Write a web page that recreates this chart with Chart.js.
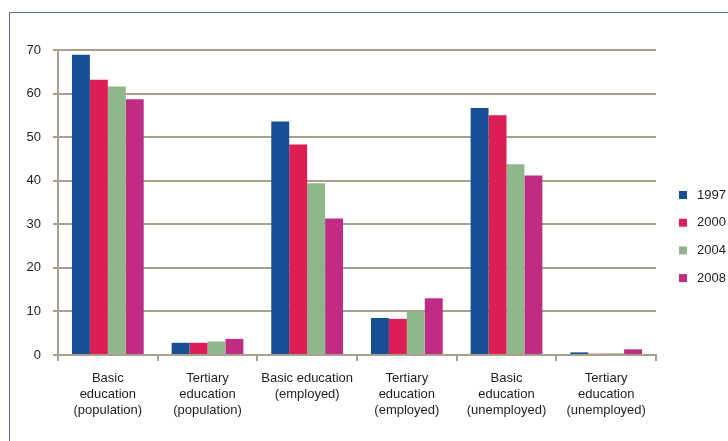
<!DOCTYPE html>
<html>
<head>
<meta charset="utf-8">
<script src="https://cdn.jsdelivr.net/npm/chart.js@4"></script>
<style>
  html, body { margin: 0; padding: 0; background: #fff; }
  #wrap { position: relative; width: 728px; height: 441px; overflow: hidden; }
  #frame { position: absolute; left: 9px; top: 12px; width: 760px; height: 460px; border: 1px solid #5a6a94; }
  #chart { position: absolute; left: 0; top: 0; }
</style>
</head>
<body>
<div id="wrap">
  <div id="frame"></div>
  <canvas id="chart" width="728" height="441"></canvas>
</div>
<script>
/* education shares by year */
const categories = [
  ['Basic', 'education', '(population)'],
  ['Tertiary', 'education', '(population)'],
  ['Basic education', '(employed)'],
  ['Tertiary', 'education', '(employed)'],
  ['Basic', 'education', '(unemployed)'],
  ['Tertiary', 'education', '(unemployed)']
];
const years = ['1997', '2000', '2004', '2008'];
const v1997 = [68.9, 2.8, 53.6, 8.5, 56.7, 0.6];
const v2000 = [63.2, 2.8, 48.3, 8.3, 55.0, 0.3];
const v2004 = [61.6, 3.1, 39.4, 10.0, 43.8, 0.4];
const v2008 = [58.7, 3.7, 31.3, 13.0, 41.2, 1.3];
const yTicks = [0, 10, 20, 30, 40, 50, 60, 70];

const COLORS = ['#184e93', '#dc1e55', '#8fb78b', '#bf2b85'];
const GRID = '#a8a08a';
const TEXT = '#1e1e1e';
const FONT = "'Liberation Sans', Arial, sans-serif";

// legend drawn at right, like the original
const sideLegend = {
  id: 'sideLegend',
  afterDraw(chart) {
    const ctx = chart.ctx;
    ctx.save();
    ctx.font = '13px ' + FONT;
    ctx.textBaseline = 'middle';
    chart.data.datasets.forEach((ds, i) => {
      const y = 195 + i * 27.7;
      ctx.fillStyle = ds.backgroundColor;
      ctx.fillRect(679, y - 4, 8, 8);
      ctx.fillStyle = TEXT;
      ctx.fillText(ds.label, 697, y);
    });
    ctx.restore();
  }
};

const series = [v1997, v2000, v2004, v2008];

new Chart(document.getElementById('chart'), {
  type: 'bar',
  data: {
    labels: categories,
    datasets: years.map((y, i) => ({
      label: y,
      data: series[i],
      backgroundColor: COLORS[i],
      barPercentage: 1,
      categoryPercentage: 0.72
    }))
  },
  options: {
    responsive: false,
    animation: false,
    layout: { padding: { top: 50, right: 72, left: 0, bottom: 0 } },
    plugins: { legend: { display: false }, tooltip: { enabled: false } },
    scales: {
      x: {
        afterFit: (s) => { s.height = 86; },
        grid: { drawOnChartArea: false, drawTicks: true, tickLength: 6, color: GRID, lineWidth: 2 },
        border: { color: GRID, width: 2 },
        ticks: { color: TEXT, font: { family: FONT, size: 13, lineHeight: 1.23 }, padding: 9, maxRotation: 0, autoSkip: false }
      },
      y: {
        min: 0,
        max: 70,
        afterFit: (s) => { s.width = 58; },
        afterBuildTicks: (s) => { s.ticks = yTicks.map(v => ({ value: v })); },
        grid: { color: GRID, lineWidth: 2, tickLength: 5 },
        border: { color: GRID, width: 2 },
        ticks: { color: TEXT, font: { family: FONT, size: 13 }, padding: 12 }
      }
    }
  },
  plugins: [sideLegend]
});
</script>
</body>
</html>
